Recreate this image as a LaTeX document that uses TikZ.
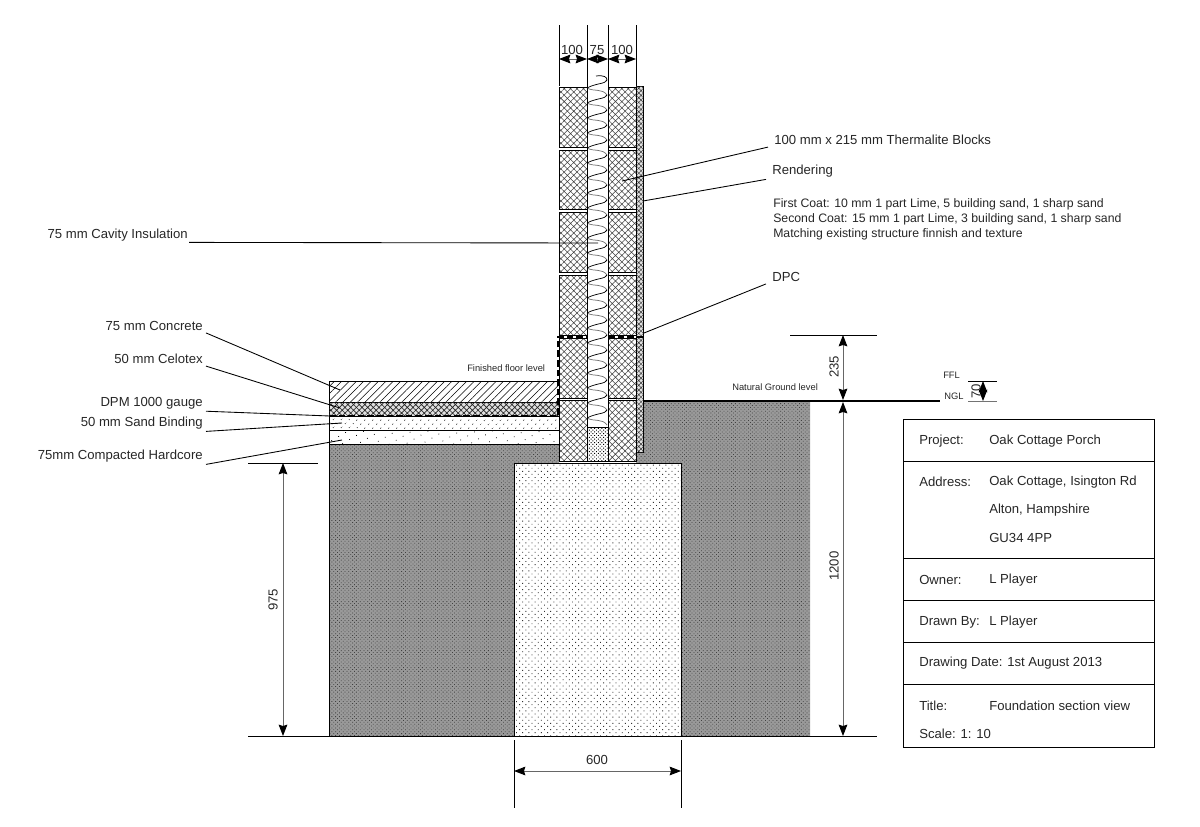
\documentclass[tikz,border=0pt]{standalone}
\usepackage{fontspec}
\setmainfont{Liberation Sans}
\usetikzlibrary{arrows.meta,patterns.meta}
\begin{document}
\begin{tikzpicture}
  [x=0.75pt,y=-0.75pt,
  blockdecorate/.style={draw,line width=0.6pt,pattern={Hatch[angle=45,distance=3.4pt,line width=0.4pt]},pattern color=black!75},
  footdecorate/.style={draw,line width=0.6pt,fill=white},
  dimarrow/.style={{Stealth[length=8.5pt,width=6.5pt,inset=1pt,black]}-{Stealth[length=8.5pt,width=6.5pt,inset=1pt,black]},draw=black!60,line width=0.7pt},
  extline/.style={draw=black,line width=0.65pt},
  leaderline/.style={draw=black,line width=0.65pt},
  textlabel/.style={font=\fontsize{9.85pt}{11pt}\selectfont,text=black!85,inner sep=0pt},
  smalllabel/.style={font=\fontsize{7pt}{8pt}\selectfont,text=black!85,inner sep=0pt}]
  \useasboundingbox (0,0) rectangle (1200,826);
  %% ground and foundation
  \fill[black!40] (329,444) -- (559,444) -- (559,463) -- (636,463) -- (636,401) -- (810,401) -- (810,736) -- (329,736) -- cycle;
  \fill[pattern={Dots[angle=45,distance=2pt,radius=0.42pt]},pattern color=black!75] (329,444) -- (559,444) -- (559,463) -- (636,463) -- (636,401) -- (810,401) -- (810,736) -- (329,736) -- cycle;
  \draw[line width=0.6pt] (329,444) -- (329,736) -- (514,736);
  \draw[line width=0.6pt] (681,736) -- (810,736);
  \draw[line width=0.6pt] (329,444) -- (559,444);
  \filldraw[footdecorate] (514,463) rectangle (681,736);
  \fill[pattern={Dots[angle=45,distance=3.3pt,radius=0.48pt]},pattern color=black!80] (514,463) rectangle (681,736);
  %% floor layers
  \draw[line width=0.6pt,pattern={Lines[angle=45,distance=3.9pt,line width=0.4pt]}] (329,381) rectangle (559,402);
  \draw[line width=0.6pt,fill=black!12] (329,402) rectangle (559,416);
  \fill[pattern={Hatch[angle=45,distance=3pt,line width=0.5pt]},pattern color=black!85] (329,402) rectangle (559,416);
  \draw[line width=0.6pt,pattern={Dots[angle=45,distance=4pt,radius=0.45pt]}] (329,416) rectangle (559,430);
  \draw[line width=0.6pt,pattern={Dots[angle=30,distance=6pt,radius=0.4pt]}] (329,430) rectangle (559,444);
  %% blocks and rendering
  \draw[line width=0.5pt,fill=black!12] (636,86) rectangle (643,452);
  \fill[pattern={Hatch[angle=45,distance=2.5pt,line width=0.35pt]},pattern color=black!80] (636,86) rectangle (643,452);
  \foreach \topy/\boty in {87/147, 150/209, 212/272, 275/335, 338/398, 400/461}
  {
    \path[blockdecorate] (559,\topy) rectangle (587,\boty);
    \path[blockdecorate] (608,\topy) rectangle (636,\boty);
  }
  \draw[line width=0.6pt,pattern={Dots[angle=45,distance=1.9pt,radius=0.5pt]}] (587,427) rectangle (608,461);
  %% insulation
  \draw[line width=0.55pt] (596,76) .. controls (604,75) and (607,77) .. (607,80);
  \foreach \y in {80,95,...,395,410}
  {
    \draw[line width=0.55pt] (607,\y) .. controls (606,\y+4) and (596,\y+3) .. (587,\y+8);
    \draw[line width=0.55pt,draw=black!55] (587,\y+8) .. controls (594,\y+12) and (602,\y+8) .. (607,\y+15);
  }
  %% damp proof layers
  \draw[line width=1.9pt,dash pattern=on 5pt off 2.2pt] (329,416) -- (558,416) -- (558,337) -- (587,337);
  \draw[line width=1.9pt,dash pattern=on 5pt off 2.2pt] (608,337) -- (643,337);
  \draw[line width=1.9pt] (643,401) -- (940,401);
  %% dimension ticks
  \coordinate (walla) at (559,59); \coordinate (wallb) at (587,59);
  \coordinate (wallc) at (608,59); \coordinate (walld) at (636,59);
  \foreach \tickname in {walla,wallb,wallc,walld}
  {
    \draw[extline] (\tickname) ++(0,-34) coordinate (\tickname top) -- ++(0,61);
  }
  \draw[extline] (587,86) -- (587,461);
  \draw[extline] (608,86) -- (608,461);
  \foreach \startx/\starty/\endx/\endy in {790/335/877/335, 810/736/877/736, 968/381/997/381, 248/463/318/463, 248/736/330/736, 514/740/514/808, 681/740/681/808}
  {
    \draw[extline] (\startx,\starty) -- (\endx,\endy);
  }
  \draw[extline,draw=black!55] (968,401) -- (997,401);
  %% dimensions
  \foreach \dimname/\x/\y/\endx/\endy/\txt/\direction/\tx/\ty in {
    dima/559/59/587/59/100/0/572/50,
    dimb/587/59/608/59/75/0/597/50,
    dimc/608/59/636/59/100/0/622/50,
    dimd/843/335/843/400/235/90/834/367,
    dime/843/402/843/736/1200/90/834/566,
    dimf/283/463/283/736/975/90/273/600,
    dimg/514/771/681/771/600/0/597/760,
    dimh/983/381/983/401/70/90/976/391}
  {
    \coordinate (\dimname s) at (\x,\y);
    \coordinate (\dimname e) at (\endx,\endy);
    \draw[dimarrow] (\dimname s) -- (\dimname e);
    \node (\dimname) at (\tx,\ty) [textlabel,rotate=\direction] {\txt};
  }
  %% labels on the left, with leaders
  \foreach \labname/\y/\endx/\endy/\txt in {
    lconcrete/326/340/390/{75 mm Concrete},
    lcelotex/359/340/408/{50 mm Celotex},
    ldpm/403/330/416/{DPM 1000 gauge},
    lsand/423/342/423/{50 mm Sand Binding},
    lcore/456/342/440/{75mm Compacted Hardcore}}
  {
    \node (\labname) at (203,\y) [textlabel,anchor=east] {\txt};
    \coordinate (\labname end) at (\endx,\endy);
    \draw[leaderline] ([shift={(3,2)}]\labname.south east) -- (\labname end);
  }
  \node (lcavity) at (188,235) [textlabel,anchor=east] {75 mm Cavity Insulation};
  \coordinate (lcavityend) at (598,243);
  \draw[leaderline] ([shift={(1,1)}]lcavity.south east) -- (lcavityend);
  %% labels on the right, with leaders
  \foreach \labname/\x/\y/\endx/\endy/\txt in {
    lblocks/774/140/622/181/{100 mm x 215 mm Thermalite Blocks},
    lrender/772/171/643/201/{Rendering},
    ldpc/772/277/644/333/{DPC}}
  {
    \node (\labname) at (\x,\y) [textlabel,anchor=west] {\txt};
    \coordinate (\labname end) at (\endx,\endy);
    \draw[leaderline] ([shift={(-6,2)}]\labname.south west) -- (\labname end);
  }
  \node (lcoat) at (773,219) [anchor=west,align=left,inner sep=0pt,text=black!85,font=\fontsize{9.2pt}{11.2pt}\selectfont]
  {First Coat: 10 mm 1 part Lime, 5 building sand, 1 sharp sand\\
   Second Coat: 15 mm 1 part Lime, 3 building sand, 1 sharp sand\\
   Matching existing structure finnish and texture};
  \node (lfloor) at (467,368) [smalllabel,anchor=west] {Finished floor level};
  \node (lground) at (732,387) [smalllabel,anchor=west] {Natural Ground level};
  \node (lffl) at (943,375) [smalllabel,anchor=west] {FFL};
  \node (lngl) at (944,396) [smalllabel,anchor=west] {NGL};
  %% title block
  \draw[line width=0.7pt] (903,419) rectangle (1154,747);
  \foreach \y in {461,558,600,642,684}
  {
    \draw[line width=0.7pt] (903,\y) -- (1154,\y);
  }
  \foreach \rowname/\x/\y/\txt in {
    rproject/919/441/{Project:}, rprojectval/989/441/{Oak Cottage Porch},
    raddress/919/482/{Address:}, raddressa/989/482/{Oak Cottage, Isington Rd},
    raddressb/989/510/{Alton, Hampshire}, raddressc/989/538/{GU34 4PP},
    rowner/919/580/{Owner:}, rownerval/989/580/{L Player},
    rdrawn/919/622/{Drawn By:}, rdrawnval/989/622/{L Player},
    rdate/919/663/{Drawing Date:}, rdateval/1007/663/{1st August 2013},
    rtitle/919/706/{Title:}, rtitleval/989/706/{Foundation section view},
    rscale/919/734/{Scale: 1: 10}}
  {
    \node (\rowname) at (\x,\y) [textlabel,anchor=west] {\txt};
  }
\end{tikzpicture}
\end{document}
